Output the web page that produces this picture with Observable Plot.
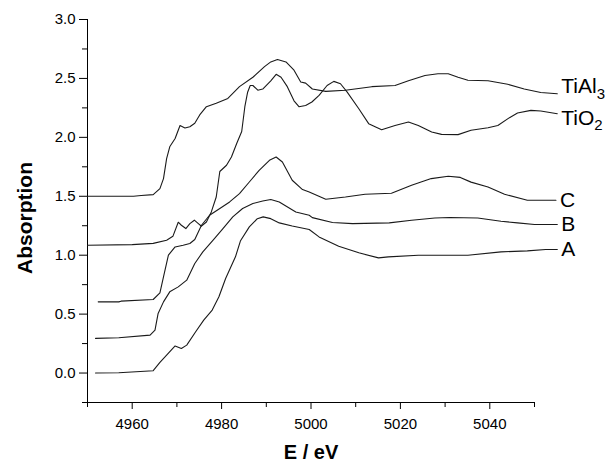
<!DOCTYPE html>
<html><head><meta charset="utf-8">
<script src="https://cdn.jsdelivr.net/npm/d3@7"></script>
<script src="https://cdn.jsdelivr.net/npm/@observablehq/plot@0.6"></script>
<style>body{margin:0;background:#fff}</style>
</head><body><div id="chart"></div>
<script>
// Energy (eV) and absorption values for each spectrum
const energyA = [4951.8,4957,4964.7,4966.2,4967.7,4969.6,4971,4972.2,4974.2,4976,4977.9,4979.4,4980.9,4983.1,4984.2,4986.2,4988,4989.3,4991,4992.9,4995.8,4999.6,5001.8,5006.2,5010.7,5015.1,5017.3,5024,5030.7,5035.1,5042.5,5048.4,5052.5,5055.1];
const absA    = [0.0,0.003,0.02,0.09,0.153,0.23,0.209,0.237,0.35,0.449,0.534,0.647,0.802,0.986,1.12,1.24,1.31,1.325,1.31,1.274,1.248,1.218,1.155,1.076,1.02,0.977,0.986,1.0,1.0,1.0,1.028,1.037,1.048,1.048];

const energyB = [4951.8,4957,4964,4965.1,4965.8,4967,4968.4,4970.3,4972.2,4974,4975.8,4978.1,4980.3,4982.5,4984.7,4987,4989.2,4991,4992.9,4996.6,4999.6,5000.3,5004.8,5009.3,5017.5,5022.5,5027.7,5031,5037.3,5042.5,5046.2,5050,5055.1];
const absB    = [0.294,0.30,0.322,0.364,0.506,0.604,0.689,0.731,0.788,0.93,1.028,1.127,1.226,1.325,1.396,1.438,1.46,1.472,1.452,1.367,1.339,1.319,1.277,1.268,1.274,1.297,1.316,1.32,1.315,1.288,1.274,1.26,1.26];

const energyC = [4952.4,4957,4957.5,4964.7,4966.2,4967,4968.1,4969.6,4971.4,4972.9,4974,4975.5,4977.3,4979.6,4981.8,4984,4986.2,4988.4,4990.7,4992.2,4993.6,4995.8,4998.1,4999.6,5003.3,5007.7,5012.1,5018,5022.5,5026.9,5030.7,5033.4,5035.8,5039.6,5043.3,5048.4,5054.8];
const absC    = [0.604,0.604,0.61,0.624,0.68,0.816,1.0,1.07,1.085,1.099,1.133,1.254,1.339,1.396,1.452,1.523,1.621,1.72,1.805,1.833,1.791,1.636,1.557,1.536,1.475,1.494,1.517,1.525,1.593,1.65,1.67,1.66,1.62,1.579,1.517,1.466,1.466];

const energyTiO2 = [4950,4960,4964.7,4967.7,4969.1,4970.3,4971,4972,4972.9,4973.9,4974.8,4975.5,4976.6,4977.7,4978.8,4979.6,4981.1,4982.2,4983.4,4984.5,4985.2,4985.8,4986.4,4987,4988.1,4989.2,4991,4992.2,4993.3,4994.7,4996.2,4997.3,4998.8,5000.2,5001.8,5003.6,5005.1,5006.6,5008.1,5010.7,5012.9,5015.8,5018.8,5021.8,5024,5027,5029.2,5032.9,5035.8,5039.6,5041.8,5044.4,5046.2,5049.2,5051.4,5055.1];
const absTiO2    = [1.085,1.09,1.10,1.127,1.16,1.28,1.254,1.226,1.268,1.297,1.268,1.246,1.282,1.367,1.494,1.71,1.763,1.833,1.95,2.05,2.26,2.38,2.44,2.44,2.40,2.41,2.48,2.535,2.51,2.43,2.31,2.26,2.27,2.30,2.356,2.44,2.475,2.455,2.384,2.243,2.116,2.065,2.10,2.13,2.10,2.045,2.025,2.023,2.06,2.082,2.10,2.167,2.206,2.229,2.223,2.2];

const energyTiAl3 = [4950,4960.3,4962,4964.7,4966.2,4967,4967.7,4968.4,4969.6,4970.7,4971.8,4972.9,4974,4975.1,4976.6,4978.8,4981.4,4984,4987,4989.6,4991,4992.5,4994.4,4996.2,4997.7,4998.8,5000.3,5003.3,5007.7,5013.6,5018.8,5021.8,5025.5,5028.4,5030.7,5032.9,5035.1,5039.6,5044,5047.7,5051.4,5055.1];
const absTiAl3    = [1.5,1.5,1.506,1.514,1.565,1.65,1.82,1.92,1.99,2.10,2.08,2.09,2.12,2.19,2.26,2.29,2.33,2.43,2.51,2.60,2.64,2.66,2.64,2.57,2.47,2.46,2.41,2.39,2.40,2.43,2.44,2.48,2.525,2.54,2.54,2.51,2.485,2.48,2.45,2.41,2.38,2.37];

const seriesNames = ["A", "B", "C", "TiO2", "TiAl3"];
const xMajorTicks = [4960, 4980, 5000, 5020, 5040];
const xMinorTicks = [4950, 4970, 4990, 5010, 5030, 5050];
const yMajorTicks = [0.0, 0.5, 1.0, 1.5, 2.0, 2.5, 3.0];
const yMinorTicks = [-0.25, 0.25, 0.75, 1.25, 1.75, 2.25, 2.75];
const xTitle = "E / eV";
const yTitle = "Absorption";

const sources = [[energyA, absA], [energyB, absB], [energyC, absC], [energyTiO2, absTiO2], [energyTiAl3, absTiAl3]];
const rows = [];
sources.forEach(([es, vs], i) => es.forEach((e, j) => rows.push({series: seriesNames[i], E: e, v: vs[j]})));

const labelMark = (filter, dy) => Plot.text(rows, Plot.selectLast({
  x: "E", y: "v", z: "series", text: "series", filter,
  textAnchor: "start", lineAnchor: "middle", dx: 4, dy, fontSize: 21, fill: "#000"
}));

const chart = Plot.plot({
  width: 611, height: 464,
  marginLeft: 87, marginRight: 77, marginTop: 19, marginBottom: 62,
  x: {domain: [4950, 5050], label: null},
  y: {domain: [-0.25, 3.0], label: null},
  style: {fontFamily: "'Liberation Sans', Arial, sans-serif", fontSize: "15px", color: "#000", background: "#fff"},
  marks: [
    Plot.axisX({ticks: xMinorTicks, tickSize: 5, tickFormat: () => "", label: null}),
    Plot.axisX({ticks: xMajorTicks, tickSize: 7, tickPadding: 9, tickFormat: d => String(d), label: null}),
    Plot.axisY({ticks: yMinorTicks, tickSize: 5, tickFormat: () => "", label: null}),
    Plot.axisY({ticks: yMajorTicks, tickSize: 8, tickPadding: 4, tickFormat: d => d.toFixed(1), label: null}),
    Plot.ruleX([4950], {stroke: "#000"}),
    Plot.ruleY([-0.25], {stroke: "#000"}),
    Plot.line(rows, {x: "E", y: "v", z: "series", stroke: "#1a1a1a", strokeWidth: 1.1}),
    labelMark(d => d.series === "TiAl3", -7),
    labelMark(d => d.series === "TiO2", 4),
    labelMark(d => d.series !== "TiAl3" && d.series !== "TiO2", 0),
    Plot.text([yTitle], {frameAnchor: "left", rotate: -90, dx: -62, dy: 7, textAnchor: "middle", lineAnchor: "middle", fontWeight: "bold", fontSize: 21, fill: "#000"}),
    Plot.text([xTitle], {frameAnchor: "bottom", dy: 50, textAnchor: "middle", lineAnchor: "middle", fontWeight: "bold", fontSize: 20, fill: "#000"})
  ]
});
document.getElementById("chart").appendChild(chart);

// render chemical formula digits as subscripts
chart.querySelectorAll("text").forEach(t => {
  const s = t.textContent;
  if (s === "TiAl3" || s === "TiO2") {
    const base = s.slice(0, -1), sub = s.slice(-1);
    t.textContent = "";
    const a = document.createElementNS("http://www.w3.org/2000/svg", "tspan");
    a.textContent = base;
    const b = document.createElementNS("http://www.w3.org/2000/svg", "tspan");
    b.textContent = sub;
    b.setAttribute("dy", "0.35em");
    b.setAttribute("font-size", "15");
    t.appendChild(a); t.appendChild(b);
  }
});
</script>
</body></html>
